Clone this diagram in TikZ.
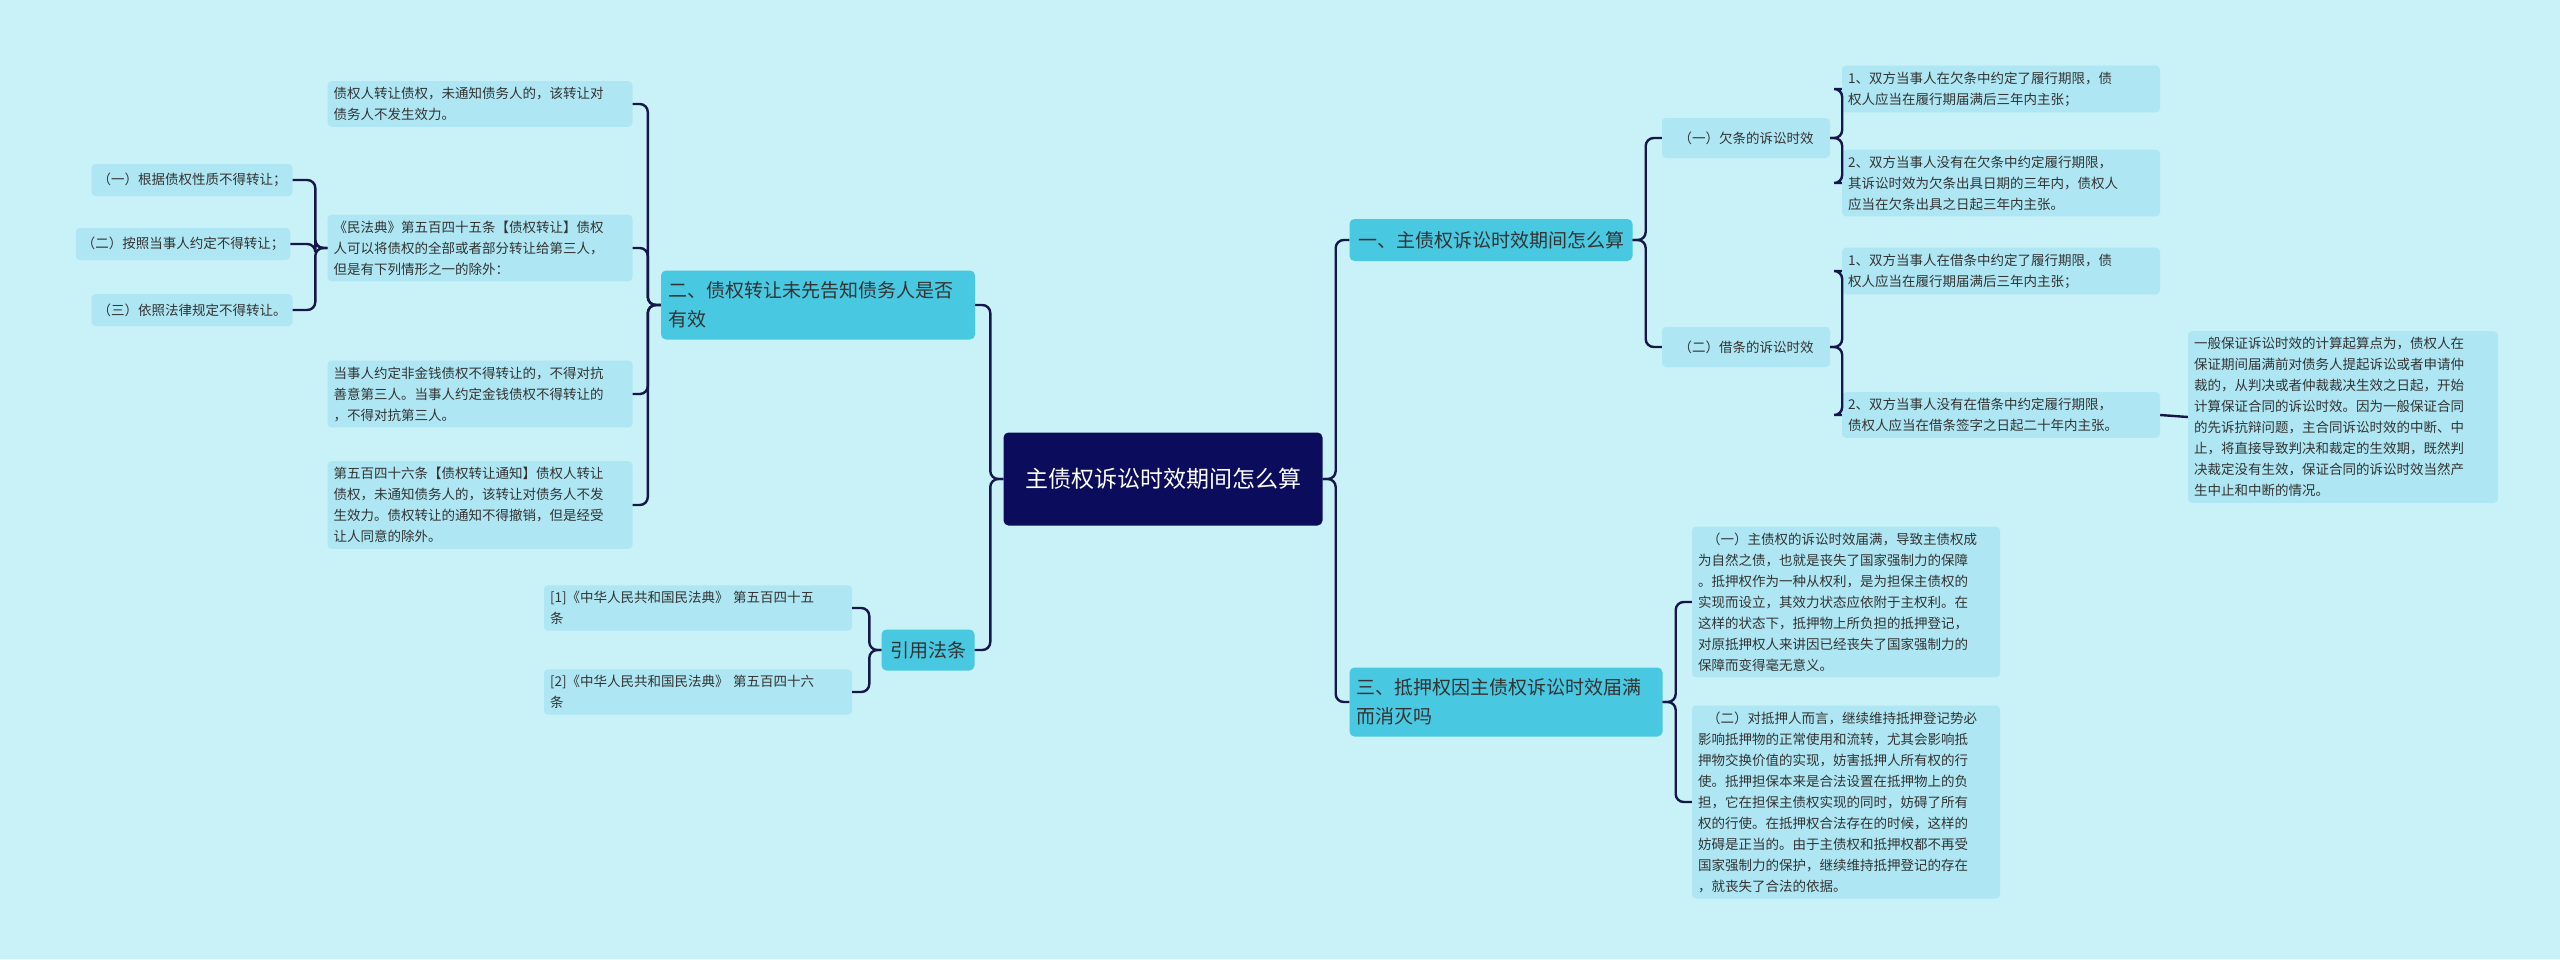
\documentclass[tikz,border=0pt]{standalone}
\usepackage{fontspec}
\setmainfont{Noto Sans CJK SC}
\begin{document}
\begin{tikzpicture}[x=1pt,y=-1pt,
 leaf/.style={fill=leafc,rounded corners=4pt,inner xsep=6pt,inner ysep=6pt,align=left,font=\fontsize{13.5}{21}\selectfont,text=txt,anchor=center},
 br/.style={fill=brc,rounded corners=5pt,inner xsep=7pt,inner ysep=6pt,align=left,font=\fontsize{19}{29}\selectfont,text=txt,anchor=center},
 link/.style={draw=linec,line width=2.4pt,rounded corners=8pt}]
\definecolor{bg}{HTML}{C9F1F8}\definecolor{leafc}{HTML}{AEE7F3}\definecolor{brc}{HTML}{48C8E1}
\definecolor{rootc}{HTML}{0C0C5C}\definecolor{linec}{HTML}{15174A}\definecolor{txt}{HTML}{333333}
\fill[bg] (0,0) rectangle (2560,959);
\useasboundingbox (0,0) rectangle (2560,959);
\node[fill=rootc,rounded corners=5pt,text=white,align=center,font=\fontsize{23}{34}\selectfont,minimum width=319pt,minimum height=93pt,text width=300pt] (root) at (1163,479) {主债权诉讼时效期间怎么算};
% branches
\node[br,minimum width=283pt,minimum height=42pt] (b1) at (1491,240) {一、主债权诉讼时效期间怎么算};
\node[br,text width=300pt,minimum height=69pt] (b2) at (818,305) {二、债权转让未先告知债务人是否\\有效};
\node[br,minimum width=93pt,minimum height=41pt] (b4) at (928,650) {引用法条};
\node[br,text width=299pt,minimum height=69pt] (b3) at (1506,702) {三、抵押权因主债权诉讼时效届满\\而消灭吗};
% left leaves
\node[leaf,text width=293pt] (l1) at (480,104) {债权人转让债权，未通知债务人的，该转让对\\债务人不发生效力。};
\node[leaf,text width=293pt] (l2) at (480,248) {《民法典》第五百四十五条【债权转让】债权\\人可以将债权的全部或者部分转让给第三人，\\但是有下列情形之一的除外：};
\node[leaf,text width=293pt] (l3) at (480,394) {当事人约定非金钱债权不得转让的，不得对抗\\善意第三人。当事人约定金钱债权不得转让的\\，不得对抗第三人。};
\node[leaf,text width=293pt] (l4) at (480,505) {第五百四十六条【债权转让通知】债权人转让\\债权，未通知债务人的，该转让对债务人不发\\生效力。债权转让的通知不得撤销，但是经受\\让人同意的除外。};
\node[leaf,minimum height=32pt] (s1) at (192,180) {（一）根据债权性质不得转让；};
\node[leaf,minimum height=32pt] (s2) at (183,244) {（二）按照当事人约定不得转让；};
\node[leaf,minimum height=32pt] (s3) at (192,310) {（三）依照法律规定不得转让。};
\node[leaf,text width=296pt] (r1) at (698,608) {[1]《中华人民共和国民法典》 第五百四十五\\条};
\node[leaf,text width=296pt] (r2) at (698,692) {[2]《中华人民共和国民法典》 第五百四十六\\条};
% right
\node[leaf,minimum width=168pt,minimum height=40pt] (c1) at (1746,138) {（一）欠条的诉讼时效};
\node[leaf,minimum width=168pt,minimum height=40pt] (c2) at (1746,347) {（二）借条的诉讼时效};
\node[leaf,text width=306pt] (a1) at (2001,89) {1、双方当事人在欠条中约定了履行期限，债\\权人应当在履行期届满后三年内主张；};
\node[leaf,text width=306pt] (a2) at (2001,183) {2、双方当事人没有在欠条中约定履行期限，\\其诉讼时效为欠条出具日期的三年内，债权人\\应当在欠条出具之日起三年内主张。};
\node[leaf,text width=306pt] (a3) at (2001,271) {1、双方当事人在借条中约定了履行期限，债\\权人应当在履行期届满后三年内主张；};
\node[leaf,text width=306pt] (a4) at (2001,415) {2、双方当事人没有在借条中约定履行期限，\\债权人应当在借条签字之日起二十年内主张。};
\node[leaf,text width=298pt] (g1) at (2343,417) {一般保证诉讼时效的计算起算点为，债权人在\\保证期间届满前对债务人提起诉讼或者申请仲\\裁的，从判决或者仲裁裁决生效之日起，开始\\计算保证合同的诉讼时效。因为一般保证合同\\的先诉抗辩问题，主合同诉讼时效的中断、中\\止，将直接导致判决和裁定的生效期，既然判\\决裁定没有生效，保证合同的诉讼时效当然产\\生中止和中断的情况。};
\node[leaf,text width=296pt] (d1) at (1846,602) {\ \ （一）主债权的诉讼时效届满，导致主债权成\\为自然之债，也就是丧失了国家强制力的保障\\。抵押权作为一种从权利，是为担保主债权的\\实现而设立，其效力状态应依附于主权利。在\\这样的状态下，抵押物上所负担的抵押登记，\\对原抵押权人来讲因已经丧失了国家强制力的\\保障而变得毫无意义。};
\node[leaf,text width=296pt] (d2) at (1846,802) {\ \ （二）对抵押人而言，继续维持抵押登记势必\\影响抵押物的正常使用和流转，尤其会影响抵\\押物交换价值的实现，妨害抵押人所有权的行\\使。抵押担保本来是合法设置在抵押物上的负\\担，它在担保主债权实现的同时，妨碍了所有\\权的行使。在抵押权合法存在的时候，这样的\\妨碍是正当的。由于主债权和抵押权都不再受\\国家强制力的保护，继续维持抵押登记的存在\\，就丧失了合法的依据。};
% connectors right
\foreach \c in {b1,b3} \draw[link] (root.east) -- ++(13,0) |- (\c.west);
\foreach \c in {c1,c2} \draw[link] (b1.east) -- ++(13,0) |- (\c.west);
\foreach \c in {a1,a2} \draw[link] (c1.east) -- ++(12,0) |- (\c.west);
\foreach \c in {a3,a4} \draw[link] (c2.east) -- ++(12,0) |- (\c.west);
\draw[link] (a4.east) -- (g1.west);
\foreach \c in {d1,d2} \draw[link] (b3.east) -- ++(13,0) |- (\c.west);
% connectors left
\foreach \c in {b2,b4} \draw[link] (root.west) -- ++(-13,0) |- (\c.east);
\foreach \c in {l1,l2,l3,l4} \draw[link] (b2.west) -- ++(-13,0) |- (\c.east);
\foreach \c in {s1,s2,s3} \draw[link] (l2.west) -- ++(-12,0) |- (\c.east);
\foreach \c in {r1,r2} \draw[link] (b4.west) -- ++(-12,0) |- (\c.east);
\end{tikzpicture}
\end{document}
